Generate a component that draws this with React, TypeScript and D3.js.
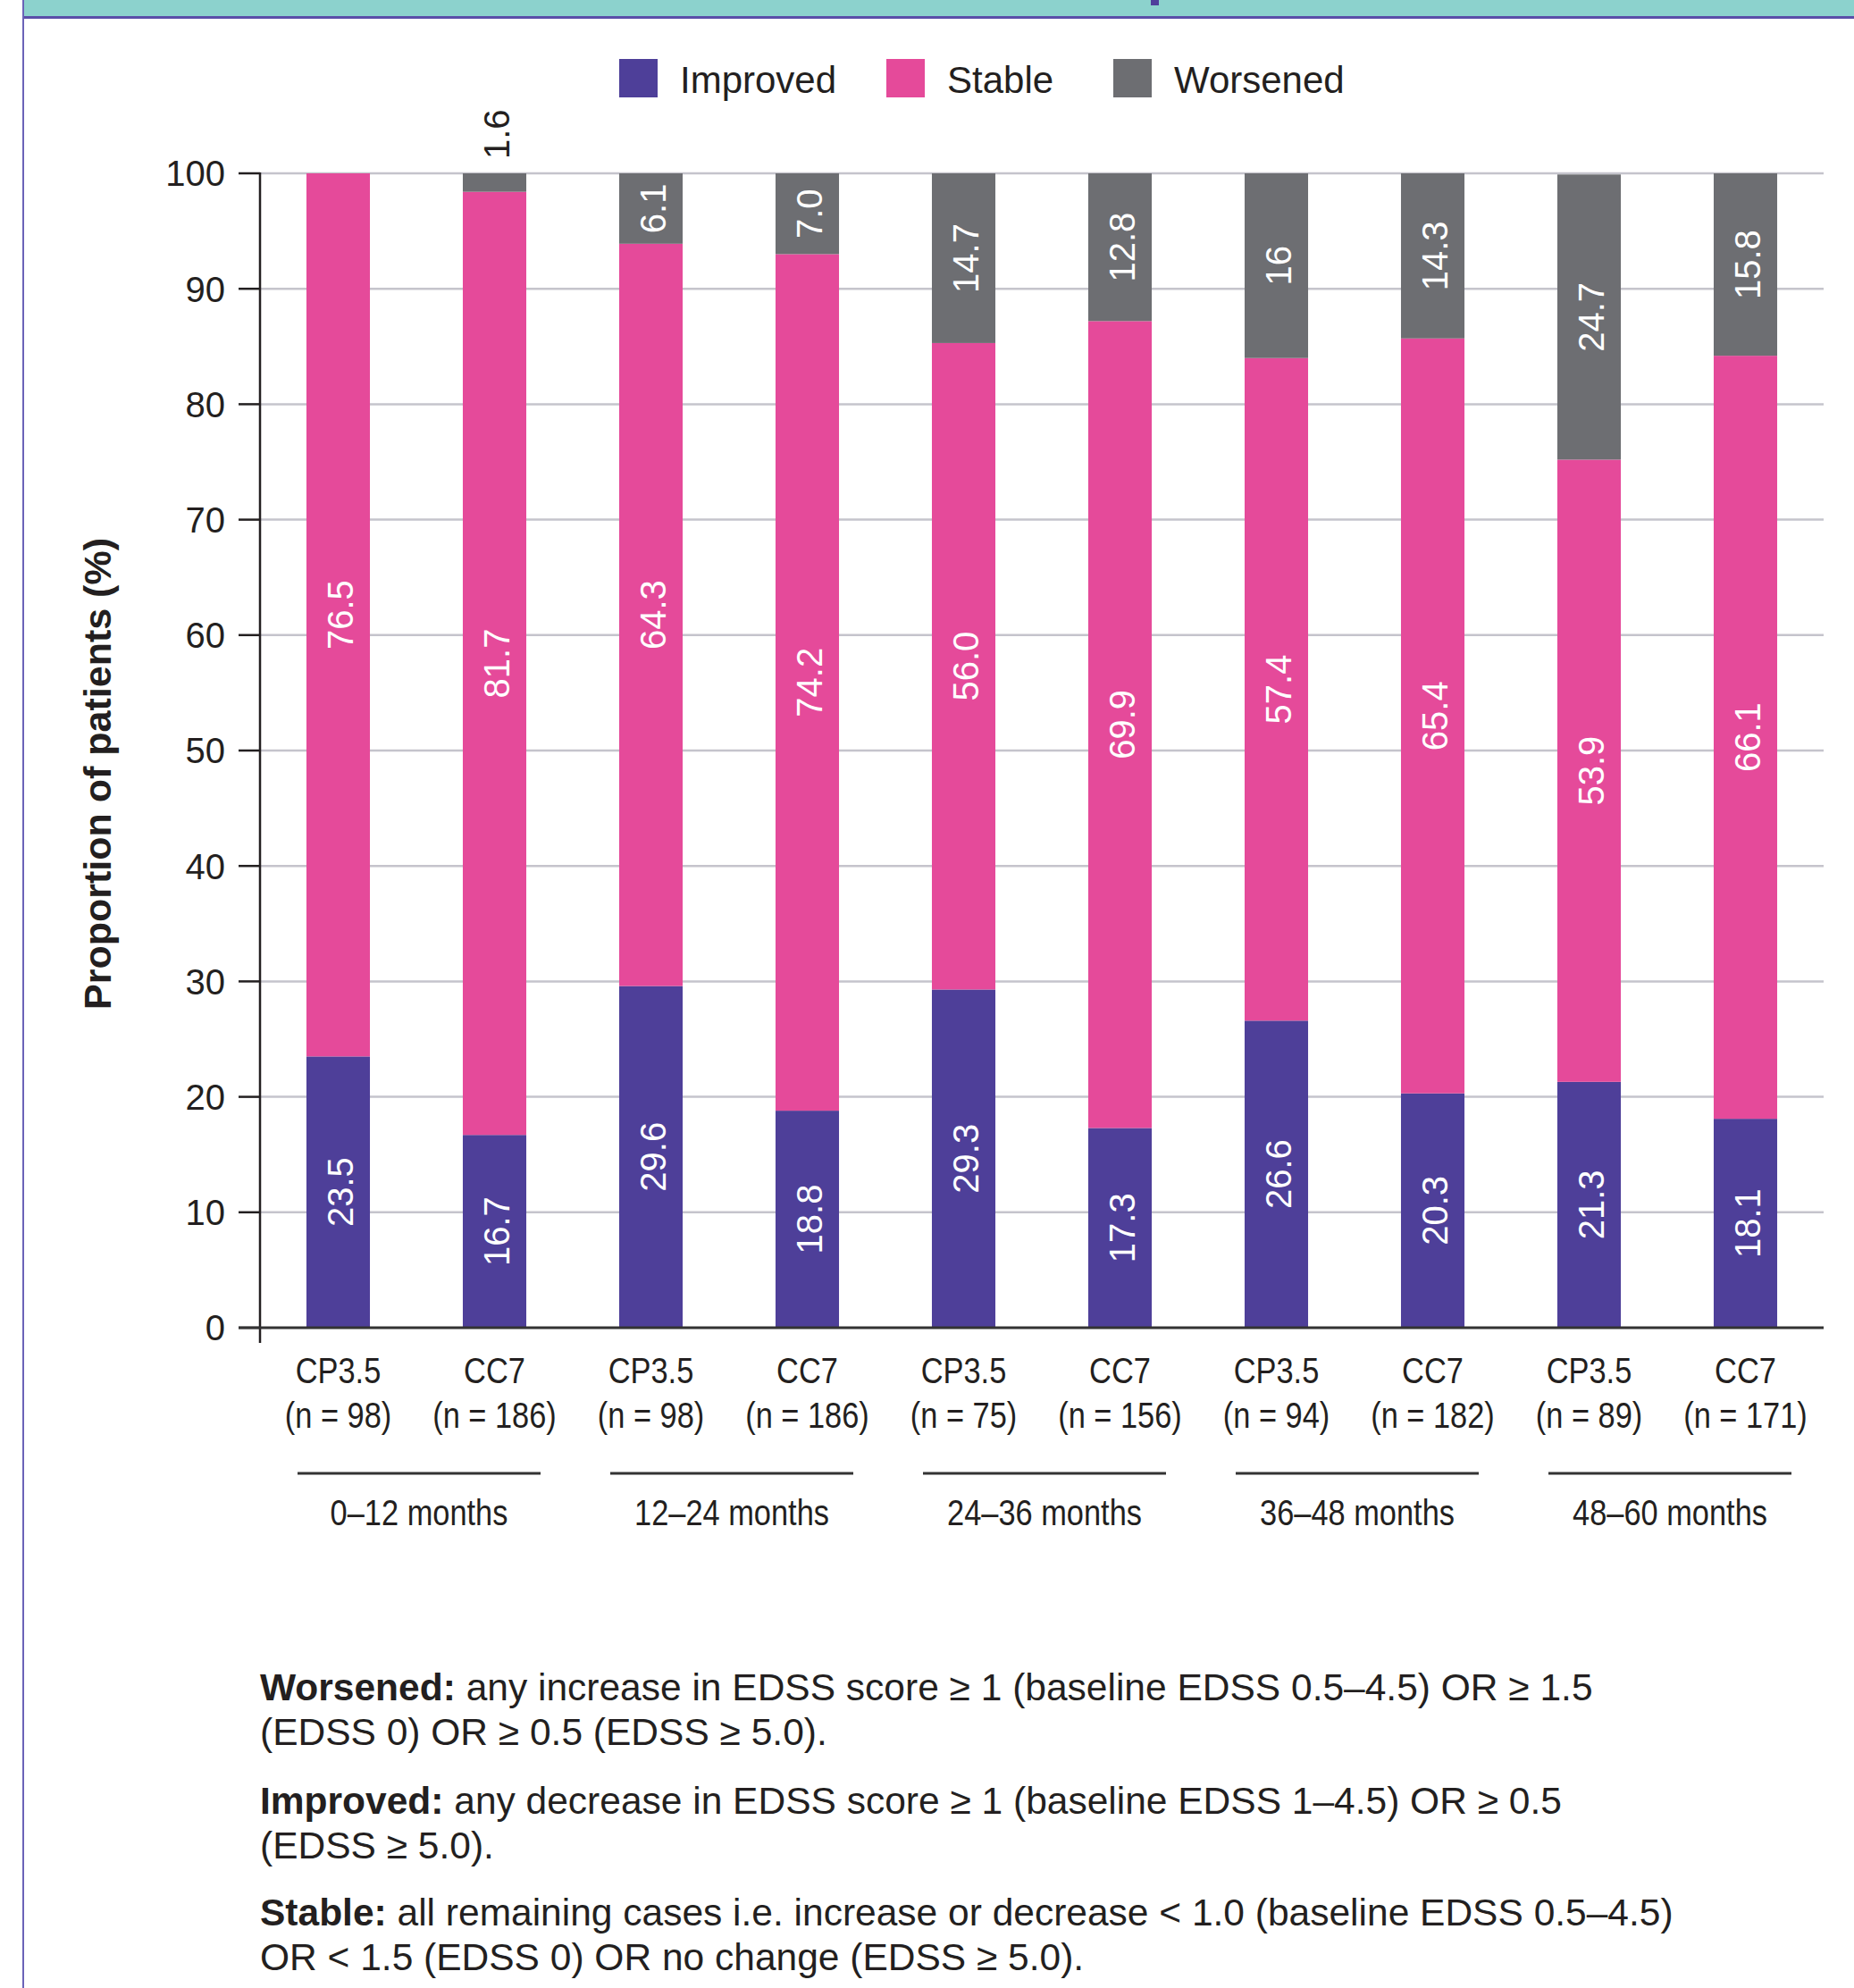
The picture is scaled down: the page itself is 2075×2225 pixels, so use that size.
import React from "react";
import * as d3 from "d3";

// Study periods and cohorts
const periods = ["0–12 months", "12–24 months", "24–36 months", "36–48 months", "48–60 months"];
const cohorts = ["CP3.5", "CC7"];
const sampleSizes = [98, 186, 98, 186, 75, 156, 94, 182, 89, 171];

// Proportion of patients (%) per bar, as printed
const improved = ["23.5", "16.7", "29.6", "18.8", "29.3", "17.3", "26.6", "20.3", "21.3", "18.1"];
const stable = ["76.5", "81.7", "64.3", "74.2", "56.0", "69.9", "57.4", "65.4", "53.9", "66.1"];
const worsened = ["0", "1.6", "6.1", "7.0", "14.7", "12.8", "16", "14.3", "24.7", "15.8"];

const seriesKeys = ["Improved", "Stable", "Worsened"];
const seriesLabels = [improved, stable, worsened];
const seriesColors = ["#4e3f99", "#e54a9a", "#6d6e72"];

const yTicks = [0, 10, 20, 30, 40, 50, 60, 70, 80, 90, 100];

const footnotes = [
  { bold: "Worsened:", lines: [" any increase in EDSS score ≥ 1 (baseline EDSS 0.5–4.5) OR ≥ 1.5", "(EDSS 0) OR ≥ 0.5 (EDSS ≥ 5.0)."] },
  { bold: "Improved:", lines: [" any decrease in EDSS score ≥ 1 (baseline EDSS 1–4.5) OR ≥ 0.5", "(EDSS ≥ 5.0)."] },
  { bold: "Stable:", lines: [" all remaining cases i.e. increase or decrease < 1.0 (baseline EDSS 0.5–4.5)", "OR < 1.5 (EDSS 0) OR no change (EDSS ≥ 5.0)."] },
];

const W = 2075;
const H = 2225;
const FONT = "'Liberation Sans', Arial, Helvetica, sans-serif";
const INK = "#231f20";

export default function App() {
  const left = 291;
  const right = 2041;
  const yTop = 194;
  const yBottom = 1486;

  const bars = periods.flatMap((p, pi) =>
    cohorts.map((c, ci) => {
      const i = pi * 2 + ci;
      return {
        id: `${p}-${c}`,
        cohort: c,
        n: sampleSizes[i],
        Improved: +improved[i],
        Stable: +stable[i],
        Worsened: +worsened[i],
        index: i,
      };
    })
  );

  const x = d3
    .scaleBand<string>()
    .domain(bars.map((b) => b.id))
    .range([left, right])
    .paddingInner(0.594)
    .paddingOuter(0.297);

  const y = d3.scaleLinear().domain([0, 100]).range([yBottom, yTop]);

  const stacked = d3.stack<any>().keys(seriesKeys)(bars);

  const bw = x.bandwidth();
  const labelSize = 40;

  return (
    <svg
      width={W}
      height={H}
      viewBox={`0 0 ${W} ${H}`}
      style={{ position: "absolute", left: 0, top: 0, background: "#fff" }}
      fontFamily={FONT}
    >
      <rect x={0} y={0} width={W} height={H} fill="#ffffff" />
      {/* header band */}
      <rect x={26} y={0} width={W - 26} height={18} fill="#8cd2cd" />
      <rect x={26} y={18} width={W - 26} height={3} fill="#5a4fa8" />
      <rect x={1288} y={0} width={9} height={6} fill="#4f3f9b" />
      <rect x={25} y={0} width={2} height={H} fill="#6b63b8" />

      {/* legend */}
      {seriesKeys.map((k, i) => {
        const sx = [693, 992, 1246][i];
        return (
          <g key={k}>
            <rect x={sx} y={66} width={43} height={43} fill={seriesColors[i]} />
            <text x={sx + 68} y={104} fontSize={42} fill={INK}>
              {k}
            </text>
          </g>
        );
      })}

      {/* gridlines */}
      {yTicks
        .filter((t) => t > 0)
        .map((t) => (
          <line key={t} x1={left} x2={right} y1={y(t)} y2={y(t)} stroke="#c5c4cc" strokeWidth={2.5} />
        ))}

      {/* stacked bars */}
      {stacked.map((layer, si) =>
        layer.map((seg, bi) => {
          const b = bars[bi];
          const h = y(seg[0]) - y(seg[1]);
          if (h <= 0) return null;
          return (
            <rect
              key={`${si}-${bi}`}
              x={x(b.id)}
              y={y(seg[1])}
              width={bw}
              height={h}
              fill={seriesColors[si]}
            />
          );
        })
      )}

      {/* value labels */}
      {stacked.map((layer, si) =>
        layer.map((seg, bi) => {
          const b = bars[bi];
          const v = seg[1] - seg[0];
          if (v <= 0) return null;
          const label = seriesLabels[si][bi];
          const cx = (x(b.id) as number) + bw / 2;
          const h = y(seg[0]) - y(seg[1]);
          const textLen = label.length * labelSize * 0.5;
          if (h < textLen) {
            // too small to hold its label: print above the bar
            return (
              <text
                key={`l${si}-${bi}`}
                transform={`translate(${cx + 2},${y(seg[1]) - 16}) rotate(-90)`}
                fontSize={labelSize}
                fill={INK}
                dominantBaseline="central"
                textAnchor="start"
              >
                {label}
              </text>
            );
          }
          const cy = (y(seg[0]) + y(seg[1])) / 2;
          return (
            <text
              key={`l${si}-${bi}`}
              transform={`translate(${cx + 2},${cy}) rotate(-90)`}
              fontSize={labelSize}
              fill="#ffffff"
              dominantBaseline="central"
              textAnchor="middle"
            >
              {label}
            </text>
          );
        })
      )}

      {/* y axis */}
      <line x1={left} x2={left} y1={yTop - 1} y2={1503} stroke={INK} strokeWidth={2.5} />
      {yTicks.map((t) => (
        <g key={t}>
          <line x1={267} x2={left} y1={y(t)} y2={y(t)} stroke={INK} strokeWidth={2.5} />
          <text x={252} y={y(t)} fontSize={40} fill={INK} textAnchor="end" dy="0.36em">
            {t}
          </text>
        </g>
      ))}
      {/* x axis */}
      <line x1={267} x2={right} y1={yBottom} y2={yBottom} stroke="#333" strokeWidth={3} />

      <text
        transform={`translate(${124},${866}) rotate(-90)`}
        fontSize={43}
        fontWeight="bold"
        fill={INK}
        textAnchor="middle"
      >
        Proportion of patients (%)
      </text>

      {/* category labels */}
      {bars.map((b) => {
        const cx = (x(b.id) as number) + bw / 2;
        return (
          <g key={`c${b.id}`} transform={`translate(${cx},0) scale(0.86,1)`} fill={INK} fontSize={40}>
            <text x={0} y={1548} textAnchor="middle">
              {b.cohort}
            </text>
            <text x={0} y={1598} textAnchor="middle">
              {`(n = ${b.n})`}
            </text>
          </g>
        );
      })}

      {/* period groups */}
      {periods.map((p, pi) => {
        const a = (x(bars[pi * 2].id) as number) + bw / 2;
        const c = (x(bars[pi * 2 + 1].id) as number) + bw / 2;
        const mid = (a + c) / 2 + 3;
        return (
          <g key={p}>
            <line x1={mid - 136} x2={mid + 136} y1={1649} y2={1649} stroke="#333" strokeWidth={3} />
            <g transform={`translate(${mid},0) scale(0.86,1)`}>
              <text x={0} y={1707} textAnchor="middle" fontSize={40} fill={INK}>
                {p}
              </text>
            </g>
          </g>
        );
      })}

      {/* definitions */}
      {footnotes.map((f, fi) => {
        const base = [1903, 2030, 2155][fi];
        return (
          <g key={f.bold} fontSize={42.5} fill={INK}>
            <text x={291} y={base}>
              <tspan fontWeight="bold">{f.bold}</tspan>
              <tspan>{f.lines[0]}</tspan>
            </text>
            <text x={291} y={base + 50}>
              {f.lines[1]}
            </text>
          </g>
        );
      })}
    </svg>
  );
}
